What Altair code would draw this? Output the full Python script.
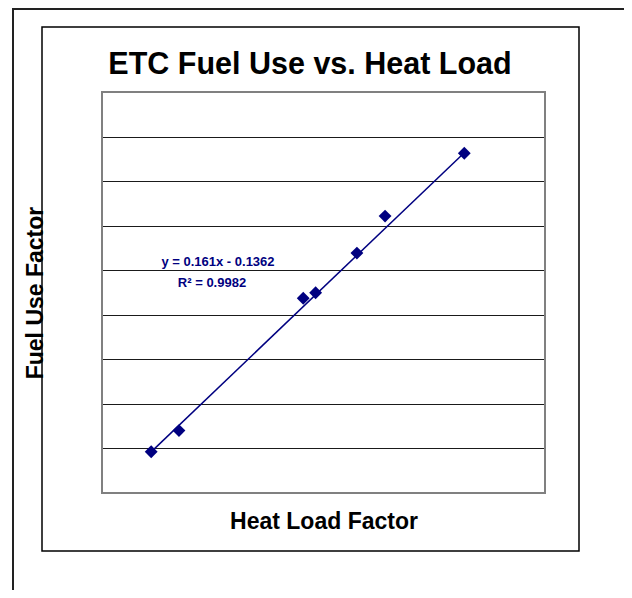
import altair as alt
import pandas as pd

# ---- data ----
heat_load = [1.31, 2.05, 5.36, 5.69, 6.79, 7.54, 9.65]
fuel_use = [0.075, 0.170, 0.764, 0.789, 0.967, 1.133, 1.415]
trend_slope = 0.161
trend_intercept = -0.1362
chart_title = "ETC Fuel Use vs. Heat Load"
x_title = "Heat Load Factor"
y_title = "Fuel Use Factor"
eq_label = "y = 0.161x - 0.1362"
r2_label = "R² = 0.9982"
y_grid = [0.09, 0.29, 0.49, 0.69, 0.89, 1.09, 1.29, 1.49]

NAVY = "#000080"
FONT = "Liberation Sans"

pts = pd.DataFrame({"x": heat_load, "y": fuel_use})
x_ends = [min(heat_load), max(heat_load)]
trend = pd.DataFrame({"x": x_ends, "y": [trend_slope * v + trend_intercept for v in x_ends]})
one = pd.DataFrame({"k": [0]})

xs = alt.Scale(domain=[0, 11.8], nice=False, zero=False)
ys = alt.Scale(domain=[-0.11, 1.69], nice=False, zero=False)

x_axis = alt.Axis(title=x_title, labels=False, ticks=False, domain=False, grid=False,
                  titleFont=FONT, titleFontSize=23, titleFontWeight="bold",
                  titleColor="black", titlePadding=17)
y_axis = alt.Axis(title=y_title, labels=False, ticks=False, domain=False, grid=True,
                  values=y_grid, gridColor="#1a1a1a", gridWidth=1, gridOpacity=1,
                  titleFont=FONT, titleFontSize=23, titleFontWeight="bold",
                  titleColor="black", titlePadding=55)

outer = alt.Chart(one).mark_rect(fill="transparent", stroke="#222222", strokeWidth=2).encode(
    x=alt.value(-89), x2=alt.value(800), y=alt.value(-83), y2=alt.value(800))
inner = alt.Chart(one).mark_rect(fill="transparent", stroke="black", strokeWidth=1.5).encode(
    x=alt.value(-60), x2=alt.value(477), y=alt.value(-65), y2=alt.value(459))
plot_frame = alt.Chart(one).mark_rect(fill="transparent", stroke="#808080", strokeWidth=2).encode(
    x=alt.value(0), x2=alt.value(443), y=alt.value(0), y2=alt.value(401))

line = alt.Chart(trend).mark_line(color=NAVY, strokeWidth=1.5).encode(
    x=alt.X("x:Q", scale=xs, axis=x_axis),
    y=alt.Y("y:Q", scale=ys, axis=y_axis))
points = alt.Chart(pts).mark_point(shape="diamond", filled=True, color=NAVY, size=165, opacity=1).encode(
    x=alt.X("x:Q", scale=xs),
    y=alt.Y("y:Q", scale=ys))

title = alt.Chart(one).mark_text(text=chart_title, font=FONT, fontSize=30.5, fontWeight="bold",
                                 color="black", align="center", baseline="middle").encode(
    x=alt.value(208), y=alt.value(-27))
eq = alt.Chart(one).mark_text(text=eq_label, font=FONT, fontSize=13, fontWeight="bold",
                              color=NAVY, align="center", baseline="middle").encode(
    x=alt.value(116), y=alt.value(170))
r2 = alt.Chart(one).mark_text(text=r2_label, font=FONT, fontSize=13, fontWeight="bold",
                              color=NAVY, align="center", baseline="middle").encode(
    x=alt.value(110), y=alt.value(191))

chart = alt.layer(outer, inner, plot_frame, line, points, title, eq, r2).properties(
    width=443, height=401,
    autosize=alt.AutoSizeParams(type="none"),
    padding={"left": 94, "top": 84, "right": 79, "bottom": 97},
).configure_view(strokeWidth=0).configure(background="white")

chart.save("out.html", embed_options={"renderer": "svg", "actions": False})
